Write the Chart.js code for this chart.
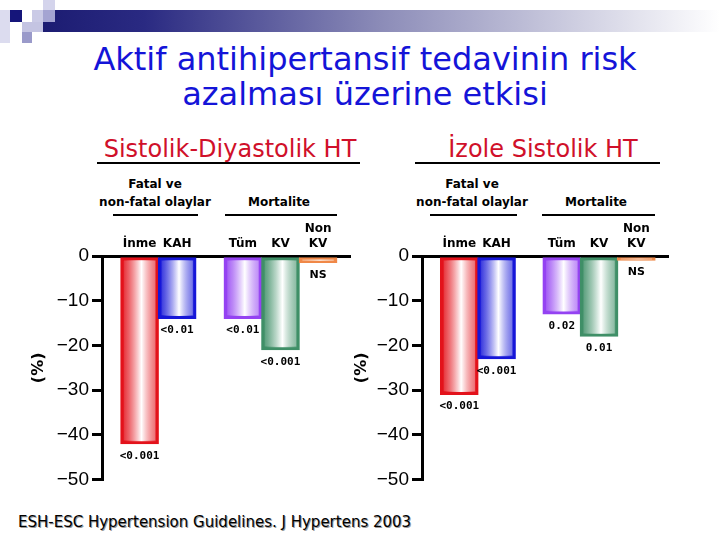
<!DOCTYPE html>
<html>
<head>
<meta charset="utf-8">
<script src="https://cdn.jsdelivr.net/npm/chart.js@4.4.1/dist/chart.umd.min.js"></script>
<style>
  body { margin: 0; width: 720px; height: 540px; background: #fff; position: relative; overflow: hidden; font-family: "DejaVu Sans", sans-serif; }
  .abs { position: absolute; }
  .sq { position: absolute; }
  .center { position: absolute; text-align: center; white-space: nowrap; }
  .rule { position: absolute; height: 2px; background: #000; }
  #title { left: 65px; width: 600px; top: 42px; font-size: 32px; line-height: 35px; color: #1414d8; }
  .head { font-size: 24px; line-height: 28px; color: #d0102a; }
  .sub { font-size: 12px; font-weight: bold; line-height: 18px; color: #000; }
  #footer { left: 18px; top: 512px; font-size: 15px; line-height: 20px; color: #000; text-shadow: 1px 1px 0 #999; white-space: nowrap; }
  canvas { position: absolute; }
</style>
</head>
<body>
<!-- slide decoration -->
<div class="sq" style="left:43px;top:10px;width:677px;height:22px;background:linear-gradient(to right,#1c1c72 0%,#2a2a82 15%,#8c8cb8 50%,#ffffff 100%)"></div>
<div class="sq" style="left:0;top:10px;width:10px;height:33px;background:#dcdcef"></div>
<div class="sq" style="left:10px;top:10px;width:12px;height:12px;background:#15157a"></div>
<div class="sq" style="left:32px;top:10px;width:11px;height:12px;background:#cacae6"></div>
<div class="sq" style="left:43px;top:0;width:12px;height:10px;background:#d4d4ec"></div>
<div class="sq" style="left:43px;top:10px;width:12px;height:12px;background:#a4a4d2"></div>
<div class="sq" style="left:22px;top:22px;width:21px;height:10px;background:#c4c4e2"></div>
<div class="sq" style="left:22px;top:32px;width:10px;height:11px;background:#9a9aca"></div>

<div id="title" class="center">Aktif antihipertansif tedavinin risk<br>azalması üzerine etkisi</div>

<div class="center head" style="left:80px;width:300px;top:135px">Sistolik-Diyastolik HT</div>
<div class="rule" style="left:97px;width:263px;top:162px"></div>
<div class="center head" style="left:393px;width:300px;top:135px">İzole Sistolik HT</div>
<div class="rule" style="left:415px;width:245px;top:162px"></div>

<div class="center sub" style="left:75px;width:160px;top:175px">Fatal ve<br>non-fatal olaylar</div>
<div class="rule" style="left:113px;width:85px;top:214px"></div>
<div class="center sub" style="left:199px;width:160px;top:193px">Mortalite</div>
<div class="rule" style="left:225px;width:112px;top:214px"></div>

<div class="center sub" style="left:392px;width:160px;top:175px">Fatal ve<br>non-fatal olaylar</div>
<div class="rule" style="left:430px;width:87px;top:214px"></div>
<div class="center sub" style="left:516px;width:160px;top:193px">Mortalite</div>
<div class="rule" style="left:542px;width:113px;top:214px"></div>

<canvas id="sdChart" width="340" height="284" style="left:20px;top:210px"></canvas>
<canvas id="isChart" width="340" height="284" style="left:350px;top:210px"></canvas>

<div id="footer" class="abs">ESH-ESC Hypertension Guidelines. J Hypertens 2003</div>

<script>
const categories = ['İnme', 'KAH', 'Tüm', 'KV', 'Non KV'];
const tickLabels = [['İnme'], ['KAH'], ['Tüm'], ['KV'], ['Non', 'KV']];
const groupOf = [0, 0, 1, 1, 1]; // 0 = fatal/non-fatal, 1 = mortalite

const sdValues = [-42, -14, -14, -21, -1.5];
const sdPValues = ['<0.001', '<0.01', '<0.01', '<0.001', 'NS'];

const isValues = [-31, -23, -13, -18, -1];
const isPValues = ['<0.001', '<0.001', '0.02', '0.01', 'NS'];

const yTicks = [-50, -40, -30, -20, -10, 0];
const barColors = ['#e3121b', '#1616d8', '#9442f2', '#3f8f67', '#f08848'];

const GAP = 0.75;   // extra space between the two groups, in bar slots
const BAR_W = 38;

function slotOf(i) {
    return i + 1 + groupOf[i] * GAP;
}

function gradientFill(context) {
    const chart = context.chart;
    const color = barColors[context.dataIndex];
    if (!chart.chartArea || !context.parsed) return color;
    const cx = chart.scales.x.getPixelForValue(context.parsed.x);
    const g = chart.ctx.createLinearGradient(cx - BAR_W / 2, 0, cx + BAR_W / 2, 0);
    g.addColorStop(0, color);
    g.addColorStop(0.12, color + 'cc');
    g.addColorStop(0.55, '#ffffff');
    g.addColorStop(1, color + 'aa');
    return g;
}

const pLabelPlugin = {
    id: 'pLabels',
    afterDatasetsDraw(chart, args, opts) {
        const ctx = chart.ctx;
        const meta = chart.getDatasetMeta(0);
        ctx.save();
        ctx.fillStyle = '#000';
        ctx.textAlign = 'center';
        ctx.textBaseline = 'middle';
        meta.data.forEach((bar, i) => {
            const txt = opts.labels[i];
            ctx.font = txt === 'NS' ? 'bold 11px "DejaVu Sans"' : 'bold 11px "DejaVu Sans Mono"';
            ctx.fillText(txt, bar.x, bar.y + 12);
        });
        ctx.restore();
    }
};

function makePanel(id, values, pvals, padding, yWidth) {
    const ctx = document.getElementById(id).getContext('2d');
    return new Chart(ctx, {
        type: 'bar',
        data: {
            datasets: [{
                data: values.map((v, i) => ({ x: slotOf(i), y: v })),
                backgroundColor: gradientFill,
                borderColor: barColors,
                borderWidth: 3,
                borderSkipped: false,
                barThickness: BAR_W
            }]
        },
        options: {
            responsive: false,
            animation: false,
            layout: { padding: padding },
            scales: {
                x: {
                    type: 'linear',
                    position: 'top',
                    min: 0,
                    max: 6.6,
                    offset: false,
                    afterBuildTicks: s => { s.ticks = categories.map((c, i) => ({ value: slotOf(i) })); },
                    afterFit: s => { s.height = 46; },
                    grid: { display: false, drawTicks: false },
                    border: { display: true, color: '#000', width: 3 },
                    ticks: {
                        autoSkip: false,
                        maxRotation: 0,
                        padding: 4,
                        color: '#000',
                        font: { family: 'DejaVu Sans', weight: 'bold', size: 12, lineHeight: 1.3 },
                        callback: (v, i) => tickLabels[i]
                    }
                },
                y: {
                    min: -50,
                    max: 0,
                    afterBuildTicks: s => { s.ticks = yTicks.map(v => ({ value: v })); },
                    afterFit: s => { s.width = yWidth; },
                    grid: { drawOnChartArea: false, drawTicks: true, tickLength: 10, color: '#000', lineWidth: 3 },
                    border: { display: true, color: '#000', width: 3 },
                    ticks: {
                        padding: 3,
                        color: '#000',
                        font: { family: 'Liberation Sans', size: 19 },
                        callback: v => v === 0 ? '0' : '\u2212' + Math.abs(v)
                    },
                    title: {
                        display: true,
                        text: '(%)',
                        color: '#000',
                        padding: 0,
                        font: { family: 'DejaVu Sans', weight: 'bold', size: 16 }
                    }
                }
            },
            plugins: {
                legend: { display: false },
                tooltip: { enabled: false },
                pLabels: { labels: pvals }
            }
        },
        plugins: [pLabelPlugin]
    });
}

makePanel('sdChart', sdValues, sdPValues, { left: 9, right: 10, top: 0, bottom: 7.5 }, 73);
makePanel('isChart', isValues, isPValues, { left: 2, right: 22, top: 0, bottom: 7.5 }, 70);
</script>
</body>
</html>
